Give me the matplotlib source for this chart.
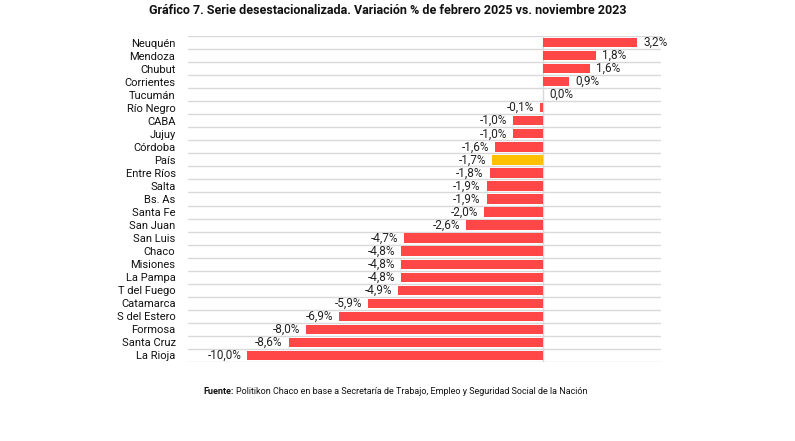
import numpy as np
import matplotlib.pyplot as plt

provincias = ['Neuquén', 'Mendoza', 'Chubut', 'Corrientes', 'Tucumán', 'Río Negro',
              'CABA', 'Jujuy', 'Córdoba', 'País', 'Entre Ríos', 'Salta', 'Bs. As',
              'Santa Fe', 'San Juan', 'San Luis', 'Chaco', 'Misiones', 'La Pampa',
              'T del Fuego', 'Catamarca', 'S del Estero', 'Formosa', 'Santa Cruz',
              'La Rioja']
variacion = [3.2, 1.8, 1.6, 0.9, 0.02, -0.1, -1.0, -1.0, -1.6, -1.7, -1.8, -1.9, -1.9,
             -2.0, -2.6, -4.7, -4.8, -4.8, -4.8, -4.9, -5.9, -6.9, -8.0, -8.6, -10.0]
etiquetas = ['3,2%', '1,8%', '1,6%', '0,9%', '0,0%', '-0,1%', '-1,0%', '-1,0%', '-1,6%',
             '-1,7%', '-1,8%', '-1,9%', '-1,9%', '-2,0%', '-2,6%', '-4,7%', '-4,8%',
             '-4,8%', '-4,8%', '-4,9%', '-5,9%', '-6,9%', '-8,0%', '-8,6%', '-10,0%']
destacado = 'País'

ROJO = '#FF4747'
AMARILLO = '#FFC000'
GRIS = '#D9D9D9'

plt.rcParams['font.family'] = ['Roboto', 'DejaVu Sans']

fig = plt.figure(figsize=(7.95, 4.41), dpi=100)
ax = fig.add_axes([188/795, 1-362/441, (661-188)/795, (362-36)/441])

n = len(provincias)
y = np.arange(n)
colores = [AMARILLO if p == destacado else ROJO for p in provincias]
ax.barh(y, variacion, height=0.72, color=colores, zorder=3)

for yi, v, lab in zip(y, variacion, etiquetas):
    if v >= 0:
        ax.text(v + 0.2, yi, lab, ha='left', va='center', fontsize=8.5, color='#222222')
    else:
        ax.text(v - 0.2, yi, lab, ha='right', va='center', fontsize=8.5, color='#222222')

ax.set_xlim(-12, 4)
ax.set_ylim(n - 0.5, -0.5)
for b in np.arange(-0.5, n, 1):
    ax.axhline(b, color=GRIS, lw=1, zorder=1)
ax.axvline(0, color=GRIS, lw=1, zorder=2)

ax.set_yticks(y)
ax.set_yticklabels(provincias, fontsize=8, color='#111111')
ax.tick_params(axis='y', length=0, pad=9)
ax.set_xticks([])
for s in ax.spines.values():
    s.set_visible(False)

fig.text(388/795, 1-11/441, 'Gráfico 7. Serie desestacionalizada. Variación % de febrero 2025 vs. noviembre 2023',
         ha='center', va='center', fontsize=9, fontweight='bold', color='#111111')
t = fig.text(203/795, 1-391/441, 'Fuente:', ha='left', va='center', fontsize=6.5,
             fontweight='bold', color='#111111')
fig.canvas.draw()
bb = t.get_window_extent()
fig.text((bb.x1 + 3)/795, 1-391/441,
         'Politikon Chaco en base a Secretaría de Trabajo, Empleo y Seguridad Social de la Nación',
         ha='left', va='center', fontsize=6.5, color='#111111')

fig.savefig('out.png', dpi=100, facecolor='white')
